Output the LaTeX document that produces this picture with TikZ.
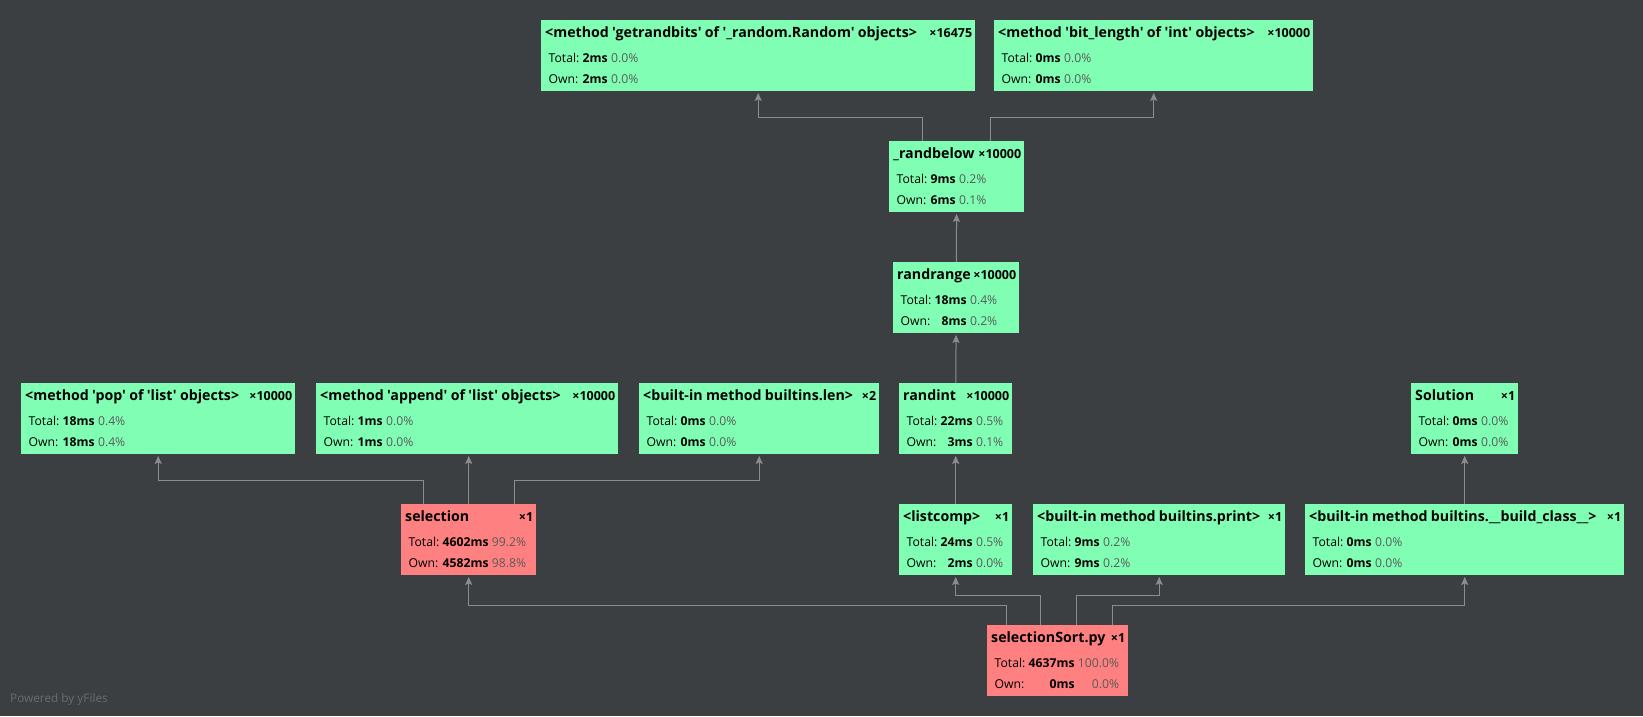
\documentclass[tikz,border=0pt]{standalone}
\usepackage{fontspec}
\setmainfont{Open Sans}[Ligatures=TeXOff]
\usetikzlibrary{arrows.meta}
\definecolor{bg}{HTML}{3C3F41}
\definecolor{callgreen}{HTML}{80FFB4}
\definecolor{callred}{HTML}{FF8080}
\definecolor{wire}{HTML}{8C8C8C}
\definecolor{pct}{HTML}{5A5A5A}
\definecolor{credit}{HTML}{6A6D70}

% title, count, total, total %, own, own %
\newcommand\cstat[6]{%
  \noindent\vbox to 59pt{%
    \hbox to\hsize{\rule[-4pt]{0pt}{15pt}\kern1pt\fontsize{14.2}{17}\selectfont\bfseries #1\hfill{\fontsize{12.5}{15}\selectfont ×#2}}%
    \nointerlineskip\vskip 6.8pt
    \hbox{\kern4.5pt\fontsize{12.2}{21}\selectfont
      \begin{tabular}[t]{@{}l@{\ }r@{\ }r@{}}
      Total: & \textbf{#3} & \textcolor{pct}{#4}\\
      Own: & \textbf{#5} & \textcolor{pct}{#6}
      \end{tabular}}%
    \vss}}

\tikzset{
  call/.style={fill=callgreen, anchor=north west, inner xsep=3pt, inner ysep=6pt,
    minimum height=71pt, align=left},
  hot/.style={call, fill=callred},
  edge/.style={draw=wire, line width=1pt, shorten >=1.5pt,
    -{Stealth[length=8pt, width=7pt, inset=1.5pt]}}
}

\begin{document}
\begin{tikzpicture}[x=1pt, y=-1pt]
\fill[bg] (0,0) rectangle (1643,716);
\useasboundingbox (0,0) rectangle (1643,716);

\node[call, text width=428pt] (grb) at (541,20) {\cstat{<method 'getrandbits' of '\_random.Random' objects>}{16475}{2ms}{0.0\%}{2ms}{0.0\%}};
\node[call, text width=313pt] (bitlen) at (994,20) {\cstat{<method 'bit\_length' of 'int' objects>}{10000}{0ms}{0.0\%}{0ms}{0.0\%}};
\node[call, text width=129pt] (rbelow) at (889,141) {\cstat{\_randbelow}{10000}{9ms}{0.2\%}{6ms}{0.1\%}};
\node[call, text width=120pt] (rrange) at (893,262) {\cstat{randrange}{10000}{18ms}{0.4\%}{8ms}{0.2\%}};

\node[call, text width=268pt] (pop) at (21,383) {\cstat{<method 'pop' of 'list' objects>}{10000}{18ms}{0.4\%}{18ms}{0.4\%}};
\node[call, text width=296pt] (append) at (316,383) {\cstat{<method 'append' of 'list' objects>}{10000}{1ms}{0.0\%}{1ms}{0.0\%}};
\node[call, text width=234pt] (len) at (639,383) {\cstat{<built-in method builtins.len>}{2}{0ms}{0.0\%}{0ms}{0.0\%}};
\node[call, text width=107pt] (randint) at (899,383) {\cstat{randint}{10000}{22ms}{0.5\%}{3ms}{0.1\%}};
\node[call, text width=101pt] (solution) at (1411,383) {\cstat{Solution}{1}{0ms}{0.0\%}{0ms}{0.0\%}};

\node[hot, text width=129pt] (sel) at (401,504) {\cstat{selection}{1}{4602ms}{99.2\%}{4582ms}{98.8\%}};
\node[call, text width=107pt] (listcomp) at (899,504) {\cstat{<listcomp>}{1}{24ms}{0.5\%}{2ms}{0.0\%}};
\node[call, text width=246pt] (print) at (1033,504) {\cstat{<built-in method builtins.print>}{1}{9ms}{0.2\%}{9ms}{0.2\%}};
\node[call, text width=313pt] (bc) at (1305,504) {\cstat{<built-in method builtins.\_\_build\_class\_\_>}{1}{0ms}{0.0\%}{0ms}{0.0\%}};

\node[hot, text width=135pt] (ss) at (987,625) {\cstat{selectionSort.py}{1}{4637ms}{100.0\%}{0ms}{0.0\%}};

\node[anchor=west, text=credit, font=\fontsize{11.8}{14}\selectfont, inner sep=0pt] (yfiles) at (10,699) {Powered by yFiles};

\draw[edge] ([xshift=33pt]rbelow.north west) -- ++(0,-24) -| (grb.south);
\draw[edge] ([xshift=101pt]rbelow.north west) -- ++(0,-24) -| (bitlen.south);
\draw[edge] (rrange) -- (rbelow);
\draw[edge] (randint) -- (rrange);
\draw[edge] (listcomp) -- (randint);
\draw[edge] (bc) -- (solution);

\draw[edge] ([xshift=22pt]sel.north west) -- ++(0,-24) -| (pop.south);
\draw[edge] (sel.north) -- (sel.north |- append.south);
\draw[edge] ([xshift=113pt]sel.north west) -- ++(0,-24) -| (len.south);

\draw[edge] ([xshift=19pt]ss.north west) -- ++(0,-20) -| (sel.south);
\draw[edge] ([xshift=53pt]ss.north west) -- ++(0,-30) -| (listcomp.south);
\draw[edge] ([xshift=89pt]ss.north west) -- ++(0,-30) -| (print.south);
\draw[edge] ([xshift=125pt]ss.north west) -- ++(0,-20) -| (bc.south);
\end{tikzpicture}
\end{document}
